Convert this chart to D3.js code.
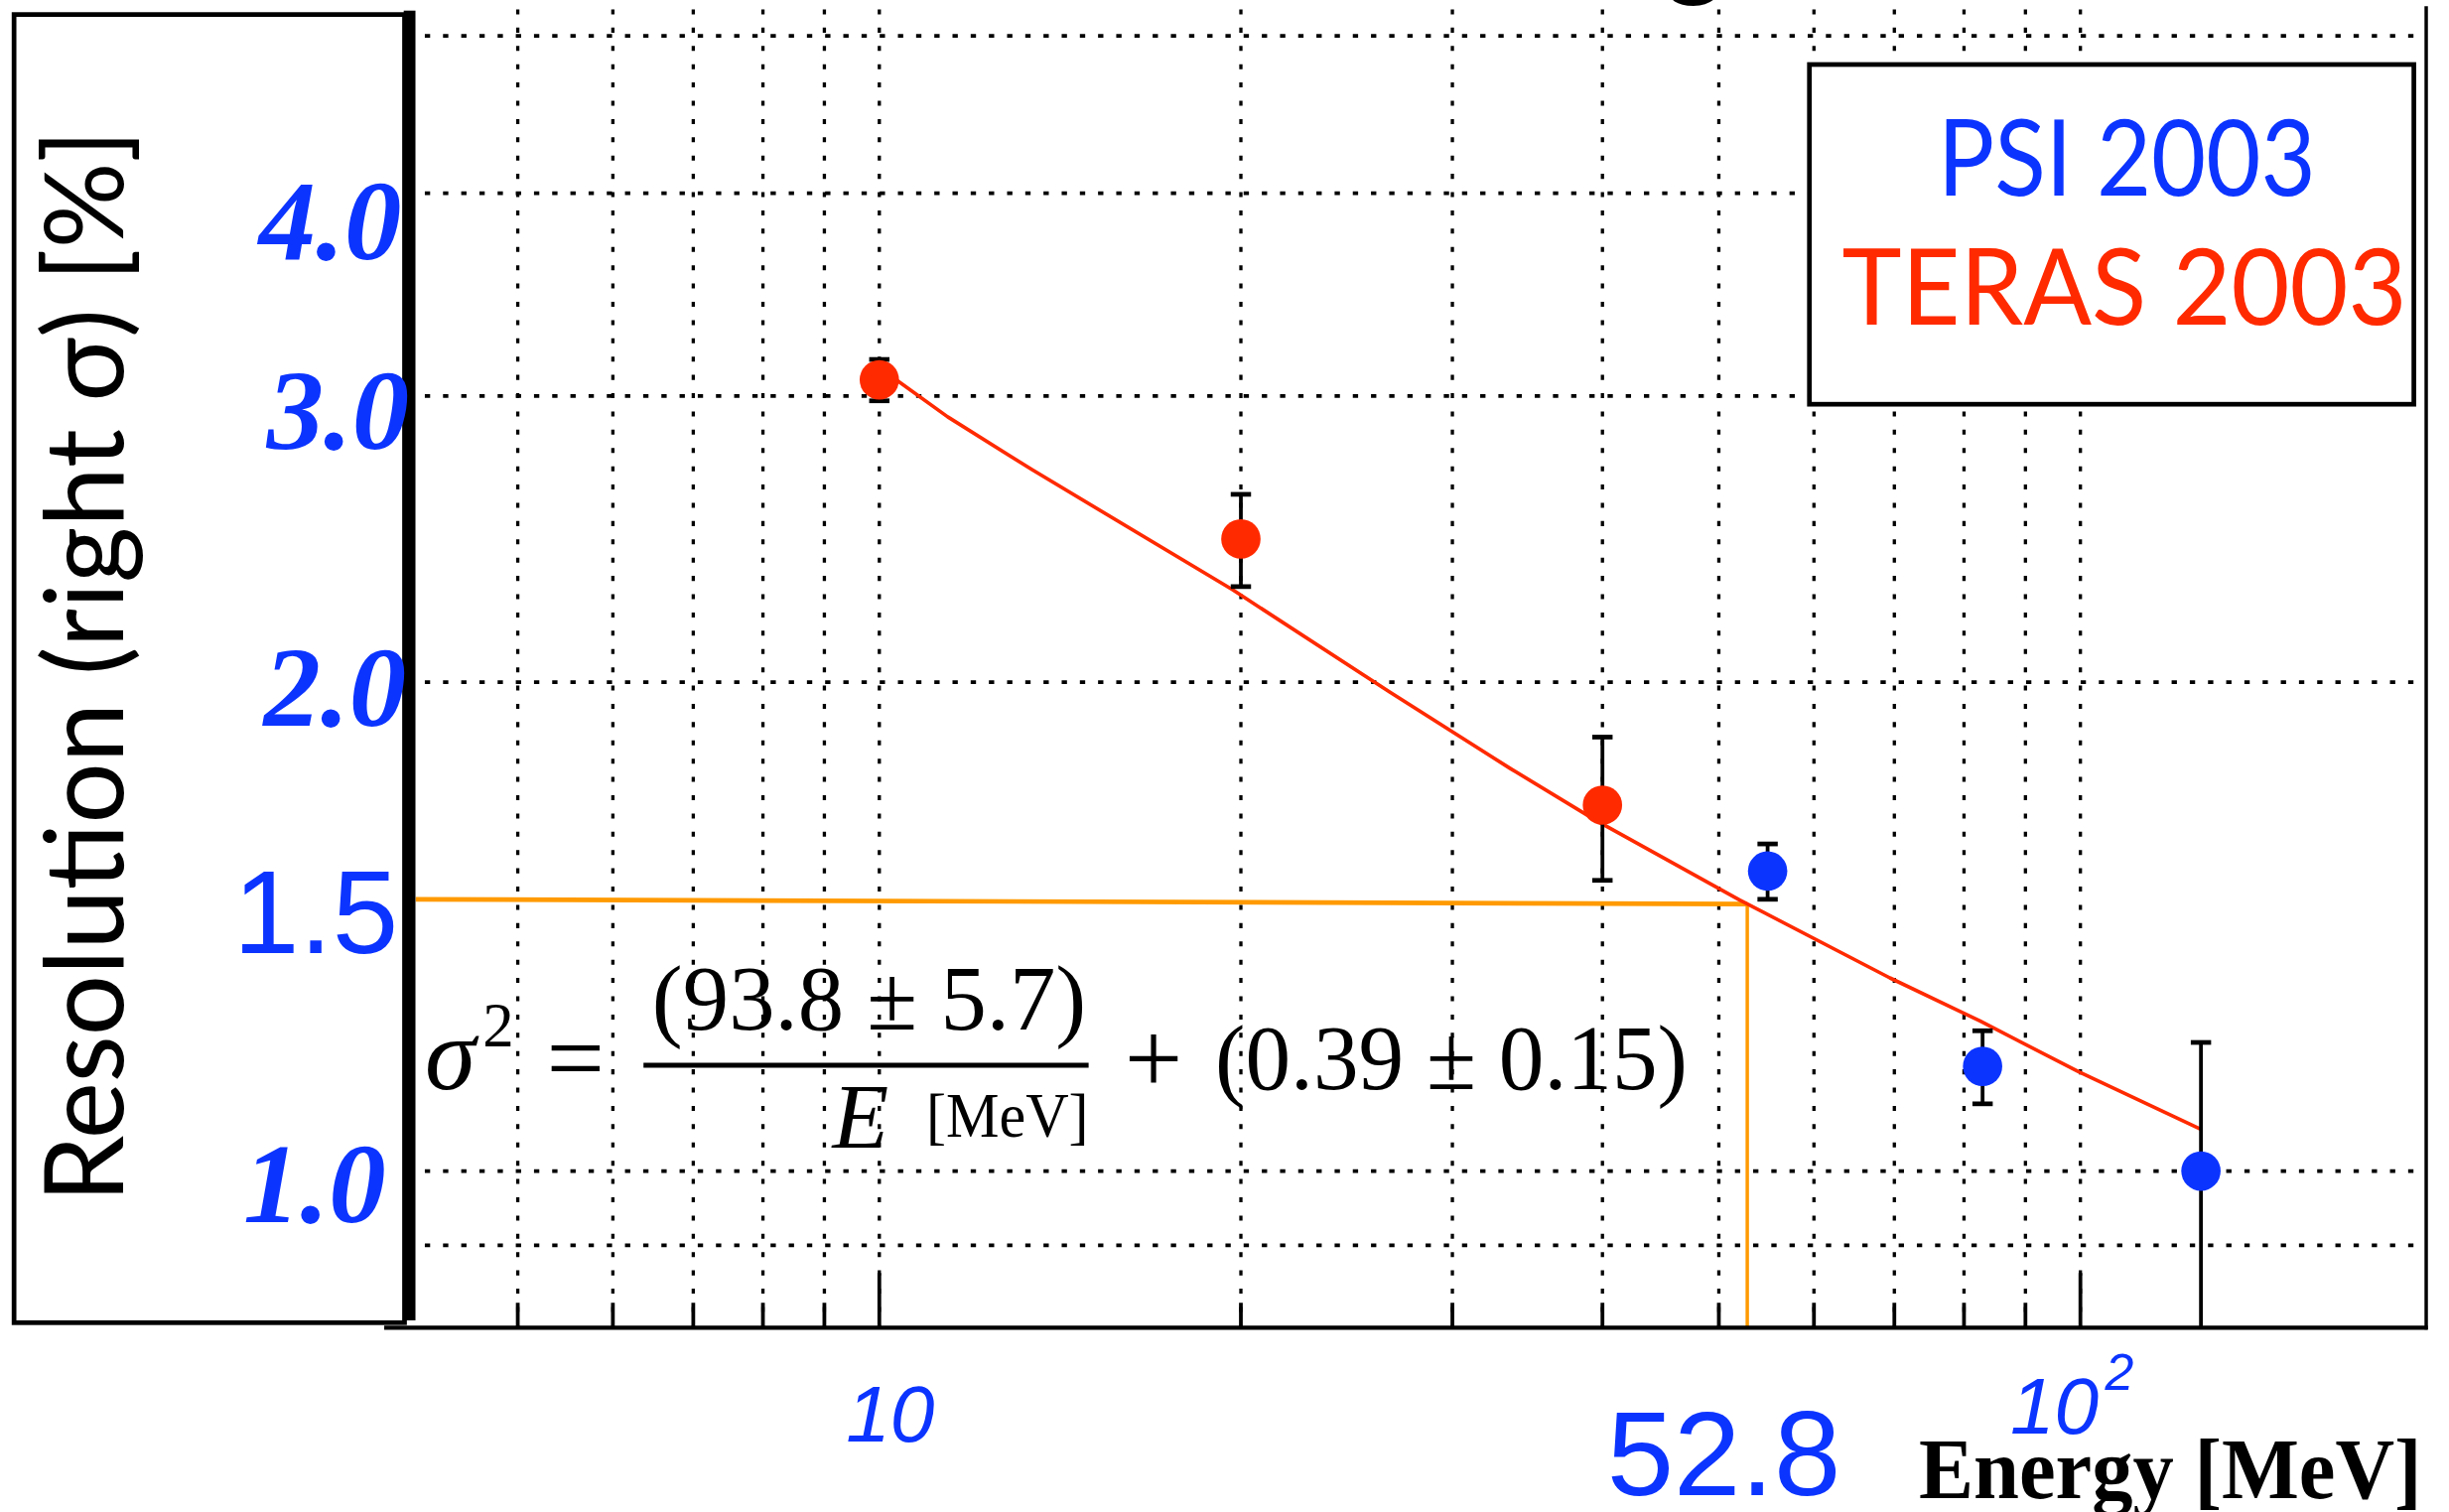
<!DOCTYPE html>
<html>
<head>
<meta charset="utf-8">
<script src="https://cdn.jsdelivr.net/npm/d3@7"></script>
<style>
  html, body { margin: 0; padding: 0; background: #fff; }
  svg { display: block; }
</style>
</head>
<body>
<div class="workspace"></div>
<script>
// TERAS 2003 beam points (energy in MeV, right sigma in %)
const terasEnergy = [10, 20, 40];
const terasSigma = [3.07, 2.45, 1.68];
const terasLow = [2.98, 2.29, 1.51];
const terasHigh = [3.16, 2.61, 1.85];

// PSI 2003 points
const psiEnergy = [54.9, 82.9, 126];
const psiSigma = [1.53, 1.16, 1.0];
const psiLow = [1.47, 1.1, 0.78];
const psiHigh = [1.59, 1.22, 1.2];

// fitted curve
const fitEnergy = [10.3, 11.4, 13.4, 19.7, 26.6, 33.5, 39.5, 52.0, 69.4, 82.5, 99.7, 126.3];
const fitSigma = [3.075, 2.913, 2.703, 2.279, 1.972, 1.77, 1.644, 1.469, 1.315, 1.237, 1.151, 1.06];

// the marked working point
const markEnergy = 52.8;
const markSigma = 1.465;

// grid and tick values
const gridEnergy = [5, 6, 7, 8, 9, 10, 20, 30, 40, 50, 60, 70, 80, 90, 100];
const majorEnergy = [10, 100];
const gridSigma = [0.9, 1, 2, 3, 4, 5];
const sigmaTickValues = [4, 3, 2, 1];
const sigmaTickLabels = ['4.0', '3.0', '2.0', '1.0'];

const legendLabels = ['PSI 2003', 'TERAS 2003'];

// drawing is done in 1568x968 units and scaled up to the window
let parameter = {
  pageWidth: 2467,
  pageHeight: 1523,
  viewWidth: 1568,
  viewHeight: 968,
  plotLeft: 266,
  plotRight: 1553.4,
  plotTop: 4,
  plotBottom: 850,
  blue: '#0c34ff',
  red: '#ff2a00',
  orange: '#ff9a00',
};

function render() {
  const svgDom = d3
    .select('.workspace')
    .append('svg')
    .attr('width', parameter.pageWidth)
    .attr('height', parameter.pageHeight)
    .attr('viewBox', `0 0 ${parameter.viewWidth} ${parameter.viewHeight}`);

  svgDom
    .append('rect')
    .attr('width', parameter.viewWidth)
    .attr('height', parameter.viewHeight)
    .style('fill', '#fff');

  const x = d3.scaleLog().domain([10, 100]).range([563, 1332]);
  const y = d3.scaleLog().domain([0.9, 5]).range([797.3, 22.9]);

  svgDom
    .append('clipPath')
    .attr('id', 'plot-clip')
    .append('rect')
    .attr('x', parameter.plotLeft)
    .attr('y', 0)
    .attr('width', parameter.plotRight - parameter.plotLeft)
    .attr('height', parameter.plotBottom);

  const plot = svgDom.append('g').attr('clip-path', 'url(#plot-clip)');

  // dotted grid
  plot
    .selectAll('line.vgrid')
    .data(gridEnergy)
    .enter()
    .append('line')
    .attr('class', 'vgrid')
    .attr('x1', (d) => x(d))
    .attr('x2', (d) => x(d))
    .attr('y1', parameter.plotTop)
    .attr('y2', parameter.plotBottom)
    .style('stroke', '#000')
    .style('stroke-width', 2.1)
    .style('stroke-dasharray', '3.2,8.5')
    .style('stroke-dashoffset', -2);

  plot
    .selectAll('line.hgrid')
    .data(gridSigma)
    .enter()
    .append('line')
    .attr('class', 'hgrid')
    .attr('x1', 272)
    .attr('x2', parameter.plotRight)
    .attr('y1', (d) => y(d))
    .attr('y2', (d) => y(d))
    .style('stroke', '#000')
    .style('stroke-width', 2.4)
    .style('stroke-dasharray', '3.4,8.25');

  // ticks on the energy axis
  plot
    .selectAll('line.tick')
    .data(gridEnergy)
    .enter()
    .append('line')
    .attr('class', 'tick')
    .attr('x1', (d) => x(d))
    .attr('x2', (d) => x(d))
    .attr('y1', parameter.plotBottom)
    .attr('y2', (d) => parameter.plotBottom - (majorEnergy.includes(d) ? 35 : 16))
    .style('stroke', '#000')
    .style('stroke-width', 2.4);

  // orange guide lines to the working point
  plot
    .append('line')
    .attr('x1', parameter.plotLeft)
    .attr('x2', x(markEnergy))
    .attr('y1', y(markSigma) - 1.5)
    .attr('y2', y(markSigma) + 1.5)
    .style('stroke', parameter.orange)
    .style('stroke-width', 3);

  plot
    .append('line')
    .attr('x1', x(markEnergy))
    .attr('x2', x(markEnergy))
    .attr('y1', y(markSigma) + 1.5)
    .attr('y2', parameter.plotBottom)
    .style('stroke', parameter.orange)
    .style('stroke-width', 2.2);

  // fit curve
  const fitLine = d3
    .line()
    .x((d) => x(d[0]))
    .y((d) => y(d[1]));

  plot
    .append('path')
    .datum(d3.zip(fitEnergy, fitSigma))
    .attr('d', fitLine)
    .style('fill', 'none')
    .style('stroke', parameter.red)
    .style('stroke-width', 2.3)
    .style('stroke-linejoin', 'round');

  // points with error bars
  const series = [
    { energy: terasEnergy, sigma: terasSigma, low: terasLow, high: terasHigh, color: parameter.red },
    { energy: psiEnergy, sigma: psiSigma, low: psiLow, high: psiHigh, color: parameter.blue },
  ];

  series.forEach(function (s) {
    const rows = s.energy.map(function (e, i) {
      return { e: e, s: s.sigma[i], lo: s.low[i], hi: s.high[i] };
    });
    const g = plot.append('g');
    g.selectAll('line.bar')
      .data(rows)
      .enter()
      .append('line')
      .attr('x1', (d) => x(d.e))
      .attr('x2', (d) => x(d.e))
      .attr('y1', (d) => y(d.lo))
      .attr('y2', (d) => y(d.hi))
      .style('stroke', '#000')
      .style('stroke-width', 2.4);
    ['lo', 'hi'].forEach(function (key) {
      g.selectAll('line.cap-' + key)
        .data(rows)
        .enter()
        .append('line')
        .attr('x1', (d) => x(d.e) - 6.5)
        .attr('x2', (d) => x(d.e) + 6.5)
        .attr('y1', (d) => y(d[key]))
        .attr('y2', (d) => y(d[key]))
        .style('stroke', '#000')
        .style('stroke-width', 3);
    });
    g.selectAll('circle')
      .data(rows)
      .enter()
      .append('circle')
      .attr('cx', (d) => x(d.e))
      .attr('cy', (d) => y(d.s))
      .attr('r', 12.6)
      .style('fill', s.color);
  });

  // legend
  svgDom
    .append('rect')
    .attr('x', 1158.5)
    .attr('y', 41.3)
    .attr('width', 387)
    .attr('height', 217.5)
    .style('fill', '#fff')
    .style('stroke', '#000')
    .style('stroke-width', 3);

  svgDom
    .selectAll('text.legend')
    .data(legendLabels)
    .enter()
    .append('text')
    .attr('class', 'legend')
    .attr('x', (d, i) => (i === 0 ? 1240.7 : 1179.4))
    .attr('y', (d, i) => (i === 0 ? 125 : 207.6))
    .attr('textLength', (d, i) => (i === 0 ? 242 : 361.6))
    .attr('lengthAdjust', 'spacingAndGlyphs')
    .style('font-family', 'Lato, "Open Sans", sans-serif')
    .style('font-size', '68px')
    .style('fill', (d, i) => (i === 0 ? parameter.blue : parameter.red))
    .text((d) => d);

  // frame: right edge and energy axis
  svgDom
    .append('line')
    .attr('x1', parameter.plotRight)
    .attr('x2', parameter.plotRight)
    .attr('y1', parameter.plotTop)
    .attr('y2', parameter.plotBottom + 1.2)
    .style('stroke', '#000')
    .style('stroke-width', 2.2);

  svgDom
    .append('line')
    .attr('x1', 246)
    .attr('x2', parameter.plotRight + 1)
    .attr('y1', parameter.plotBottom)
    .attr('y2', parameter.plotBottom)
    .style('stroke', '#000')
    .style('stroke-width', 2.6);

  // boxed y title
  svgDom
    .append('rect')
    .attr('x', 9)
    .attr('y', 9.3)
    .attr('width', 250)
    .attr('height', 837.5)
    .style('fill', '#fff')
    .style('stroke', '#000')
    .style('stroke-width', 3);

  svgDom
    .append('rect')
    .attr('x', 258.5)
    .attr('y', 6.8)
    .attr('width', 7.5)
    .attr('height', 838.5)
    .style('fill', '#000');

  svgDom
    .append('text')
    .attr('transform', 'translate(79,426.5) rotate(-90)')
    .attr('text-anchor', 'middle')
    .attr('textLength', 687)
    .attr('lengthAdjust', 'spacingAndGlyphs')
    .style('font-family', 'Lato, "Open Sans", sans-serif')
    .style('font-size', '70px')
    .style('fill', '#000')
    .text('Resolution (right σ) [%]');

  // sigma tick labels
  const labelShift = { '4.0': [-2, 42], '3.0': [3, 34], '2.0': [1, 28], '1.0': [-12, 33] };
  svgDom
    .selectAll('text.ylab')
    .data(sigmaTickValues)
    .enter()
    .append('text')
    .attr('class', 'ylab')
    .attr('x', (d, i) => 259 + labelShift[sigmaTickLabels[i]][0])
    .attr('y', (d, i) => y(d) + labelShift[sigmaTickLabels[i]][1])
    .attr('text-anchor', 'end')
    .style('font-family', '"Liberation Serif", "Times New Roman", serif')
    .style('font-weight', 'bold')
    .style('font-style', 'italic')
    .style('font-size', '73px')
    .style('fill', parameter.blue)
    .text((d, i) => sigmaTickLabels[i]);

  svgDom
    .append('text')
    .attr('x', 255)
    .attr('y', y(markSigma) + 33)
    .attr('text-anchor', 'end')
    .style('font-family', '"Liberation Sans", Arial, sans-serif')
    .style('font-size', '76px')
    .style('fill', parameter.blue)
    .text('1.5');

  // energy tick labels
  svgDom
    .append('text')
    .attr('x', x(majorEnergy[0]) + 7)
    .attr('y', 923)
    .attr('text-anchor', 'middle')
    .style('font-family', '"Liberation Sans", Arial, sans-serif')
    .style('font-style', 'italic')
    .style('font-size', '51px')
    .style('fill', parameter.blue)
    .text('10');

  const hundred = svgDom
    .append('text')
    .attr('x', x(majorEnergy[1]) - 45)
    .attr('y', 918)
    .style('font-family', '"Liberation Sans", Arial, sans-serif')
    .style('font-style', 'italic')
    .style('fill', parameter.blue);
  hundred.append('tspan').style('font-size', '51px').text('10');
  hundred
    .append('tspan')
    .attr('dy', -28)
    .attr('dx', 4)
    .style('font-size', '33px')
    .text('2');

  svgDom
    .append('text')
    .attr('x', x(markEnergy) - 15)
    .attr('y', 957)
    .attr('text-anchor', 'middle')
    .style('font-family', '"Liberation Sans", Arial, sans-serif')
    .style('font-size', '77px')
    .style('fill', parameter.blue)
    .text(String(markEnergy));

  svgDom
    .append('text')
    .attr('x', 1228.6)
    .attr('y', 959.4)
    .attr('textLength', 322)
    .attr('lengthAdjust', 'spacingAndGlyphs')
    .style('font-family', '"Liberation Serif", "Times New Roman", serif')
    .style('font-weight', 'bold')
    .style('font-size', '55px')
    .style('fill', '#000')
    .text('Energy [MeV]');

  // resolution formula
  const formula = svgDom
    .append('g')
    .style('font-family', '"Liberation Serif", "Times New Roman", serif')
    .style('fill', '#000');

  formula
    .append('text')
    .attr('x', 272)
    .attr('y', 697)
    .style('font-style', 'italic')
    .style('font-size', '66px')
    .text('σ');
  formula
    .append('text')
    .attr('x', 309)
    .attr('y', 670)
    .style('font-size', '40px')
    .text('2');
  formula
    .append('text')
    .attr('x', 368.5)
    .attr('y', 700)
    .attr('text-anchor', 'middle')
    .style('font-size', '66px')
    .text('=');
  formula
    .append('text')
    .attr('x', 417.5)
    .attr('y', 659)
    .attr('textLength', 278)
    .attr('lengthAdjust', 'spacingAndGlyphs')
    .style('font-size', '59px')
    .text('(93.8 ± 5.7)');
  formula
    .append('line')
    .attr('x1', 412)
    .attr('x2', 697)
    .attr('y1', 682)
    .attr('y2', 682)
    .style('stroke', '#000')
    .style('stroke-width', 3.2);
  formula
    .append('text')
    .attr('x', 533)
    .attr('y', 735)
    .style('font-style', 'italic')
    .style('font-size', '59px')
    .text('E');
  formula
    .append('text')
    .attr('x', 593)
    .attr('y', 728)
    .attr('textLength', 104)
    .attr('lengthAdjust', 'spacingAndGlyphs')
    .style('font-size', '40px')
    .text('[MeV]');
  formula
    .append('text')
    .attr('x', 738.5)
    .attr('y', 700)
    .attr('text-anchor', 'middle')
    .style('font-size', '66px')
    .text('+');
  formula
    .append('text')
    .attr('x', 778)
    .attr('y', 697)
    .attr('textLength', 302.5)
    .attr('lengthAdjust', 'spacingAndGlyphs')
    .style('font-size', '59px')
    .text('(0.39 ± 0.15)');

  // bit of a title glyph cut off at the top edge
  svgDom
    .append('text')
    .attr('x', 1085)
    .attr('y', -9)
    .attr('text-anchor', 'middle')
    .style('font-family', 'Lato, sans-serif')
    .style('font-weight', 'bold')
    .style('font-size', '70px')
    .style('fill', '#000')
    .text('g');
}

render();
</script>
</body>
</html>
